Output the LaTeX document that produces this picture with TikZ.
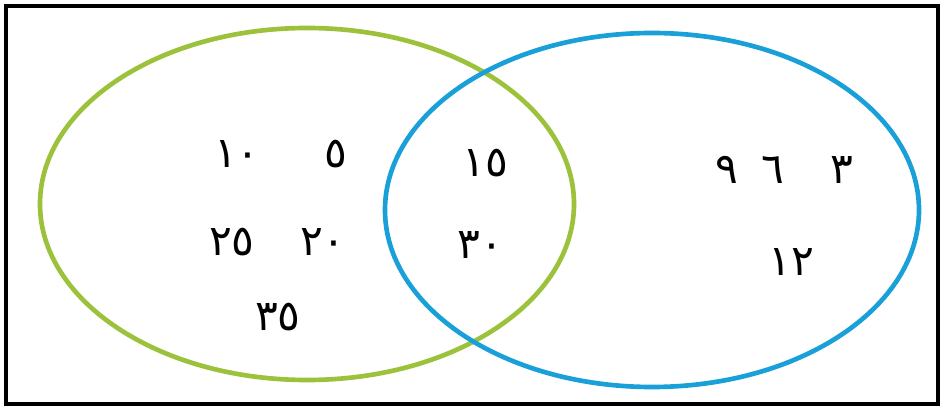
\documentclass[tikz,border=0pt]{standalone}
\usepackage{fontspec}
\newfontfamily\arabicfont[Script=Arabic]{DejaVu Sans}
\definecolor{vgreen}{HTML}{9CC23C}
\definecolor{vblue}{HTML}{1AA0D8}
\tikzset{
  setA/.style={draw=vgreen, line width=3.5pt},
  setB/.style={draw=vblue, line width=3.5pt},
  num/.style={font=\arabicfont\fontsize{32}{38}\selectfont, inner sep=0pt},
}
\begin{document}
\begin{tikzpicture}[x=0.0264583cm, y=-0.0264583cm]
\useasboundingbox (0,0) rectangle (944,408);
\fill[white] (0,0) rectangle (944,408);
\draw[line width=2.6pt] (6,6) rectangle (938,404);
\draw[setA] (307,204) ellipse [x radius=267, y radius=176];
\draw[setB] (652,210) ellipse [x radius=267, y radius=177];
\node[num] (n10) at (237,154) {١٠};
\node[num] (n5) at (336,154) {٥};
\node[num] (n25) at (232,242) {٢٥};
\node[num] (n20) at (323,242) {٢٠};
\node[num] (n35) at (278,317) {٣٥};
\node[num] (n15) at (485,163) {١٥};
\node[num] (n30) at (480,245) {٣٠};
\node[num] (n9) at (727,170) {٩};
\node[num] (n6) at (773,170) {٦};
\node[num] (n3) at (842,170) {٣};
\node[num] (n12) at (791,262) {١٢};
\end{tikzpicture}
\end{document}
